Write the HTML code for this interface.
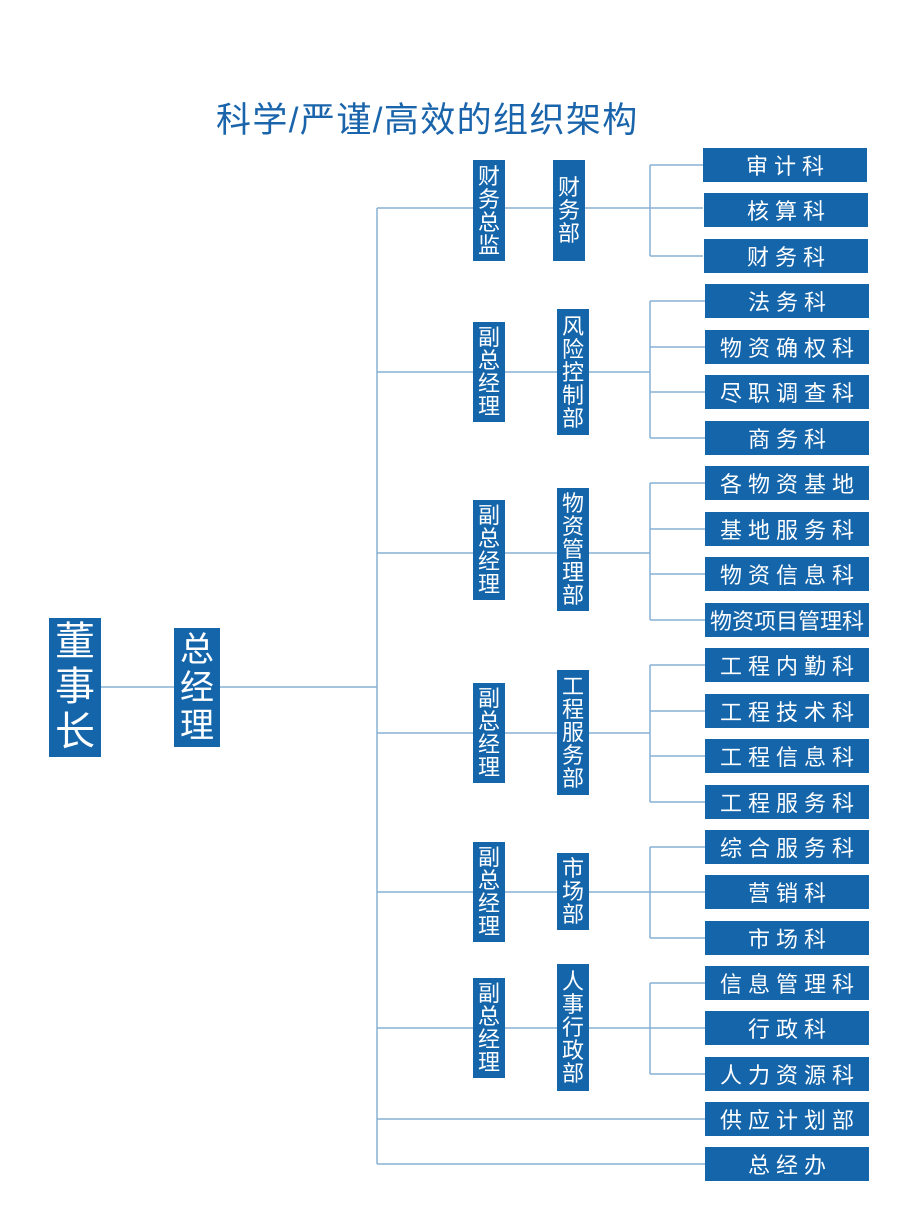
<!DOCTYPE html>
<html><head><meta charset="utf-8"><style>
body{margin:0;width:920px;height:1212px;background:#fff;position:relative;overflow:hidden;font-family:"Liberation Sans","Noto Sans CJK SC",sans-serif}
.b{position:absolute;background:#1565ab;color:#fff;display:flex;align-items:center;justify-content:center;text-align:center}
.v{font-size:22px;line-height:23px;width:32px}
.r{left:705px;width:164px;height:34px;font-size:22px;letter-spacing:6px;text-indent:6px;white-space:nowrap}
.t{position:absolute;left:216px;top:92px;font-size:35px;color:#1a64ab;letter-spacing:1.4px;white-space:nowrap}
svg{position:absolute;left:0;top:0}
</style></head><body>
<div class="t">科学/严谨/高效的组织架构</div>
<svg width="920" height="1212"><g stroke="#86b0d6" stroke-width="1.5" fill="none">
<path d="M101 687H377M377 208V1164"/>
<path d="M377 208H703M650 165V256M650 165H703M650 256H703"/>
<path d="M377 372H650M650 301V438M650 301H705M650 347H705M650 392H705M650 438H705"/>
<path d="M377 553H650M650 483V620M650 483H705M650 529H705M650 574H705M650 620H705"/>
<path d="M377 733H650M650 665V802M650 665H705M650 711H705M650 756H705M650 802H705"/>
<path d="M377 892H705M650 847V938M650 847H705M650 938H705"/>
<path d="M377 1028H705M650 983V1074M650 983H705M650 1074H705"/>
<path d="M377 1119H705M377 1164H705"/>
</g></svg>
<div class="b" style="left:49px;top:618px;width:52px;height:139px;font-size:40px;line-height:45px">董<br>事<br>长</div>
<div class="b" style="left:174px;top:628px;width:46px;height:119px;font-size:34px;line-height:38px">总<br>经<br>理</div>

<div class="b v" style="left:473px;top:160px;height:101px">财<br>务<br>总<br>监</div>
<div class="b v" style="left:553px;top:160px;height:101px">财<br>务<br>部</div>
<div class="b v" style="left:473px;top:322px;height:100px">副<br>总<br>经<br>理</div>
<div class="b v" style="left:557px;top:309px;height:126px">风<br>险<br>控<br>制<br>部</div>
<div class="b v" style="left:473px;top:500px;height:100px">副<br>总<br>经<br>理</div>
<div class="b v" style="left:557px;top:488px;height:123px">物<br>资<br>管<br>理<br>部</div>
<div class="b v" style="left:473px;top:683px;height:100px">副<br>总<br>经<br>理</div>
<div class="b v" style="left:557px;top:670px;height:125px">工<br>程<br>服<br>务<br>部</div>
<div class="b v" style="left:473px;top:842px;height:100px">副<br>总<br>经<br>理</div>
<div class="b v" style="left:557px;top:853px;height:77px">市<br>场<br>部</div>
<div class="b v" style="left:473px;top:978px;height:100px">副<br>总<br>经<br>理</div>
<div class="b v" style="left:557px;top:964px;height:127px">人<br>事<br>行<br>政<br>部</div>

<div class="b r" style="top:148px;left:703px">审计科</div>
<div class="b r" style="top:193px;left:704px">核算科</div>
<div class="b r" style="top:239px;left:704px">财务科</div>
<div class="b r" style="top:284px">法务科</div>
<div class="b r" style="top:330px">物资确权科</div>
<div class="b r" style="top:375px">尽职调查科</div>
<div class="b r" style="top:421px">商务科</div>
<div class="b r" style="top:466px">各物资基地</div>
<div class="b r" style="top:512px">基地服务科</div>
<div class="b r" style="top:557px">物资信息科</div>
<div class="b r" style="top:603px;letter-spacing:0;text-indent:0">物资项目管理科</div>
<div class="b r" style="top:648px">工程内勤科</div>
<div class="b r" style="top:694px">工程技术科</div>
<div class="b r" style="top:739px">工程信息科</div>
<div class="b r" style="top:785px">工程服务科</div>
<div class="b r" style="top:830px">综合服务科</div>
<div class="b r" style="top:875px">营销科</div>
<div class="b r" style="top:921px">市场科</div>
<div class="b r" style="top:966px">信息管理科</div>
<div class="b r" style="top:1011px">行政科</div>
<div class="b r" style="top:1057px">人力资源科</div>
<div class="b r" style="top:1102px">供应计划部</div>
<div class="b r" style="top:1147px">总经办</div>
</body></html>
